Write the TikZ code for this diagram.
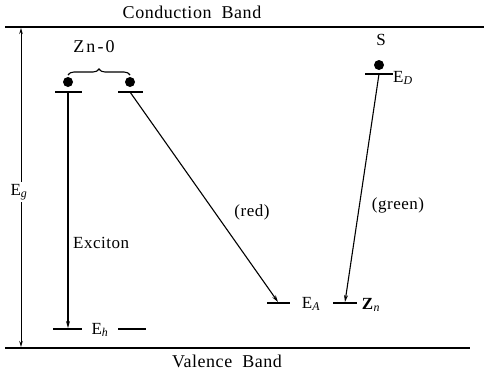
\documentclass[tikz,border=0pt]{standalone}
\usepackage{fontspec}
\setmainfont{Liberation Serif}
\usetikzlibrary{decorations.pathreplacing,arrows.meta}
\begin{document}
\begin{tikzpicture}[x=1pt,y=-1pt,
  band/.style={line width=2pt},
  lvl/.style={line width=1.3pt},
  arr/.style={line width=1.1pt,-{Stealth[length=7pt,width=4pt]}},
  dot/.style={circle,fill=black,inner sep=0pt,minimum size=10pt},
  lab/.style={font=\fontsize{18}{20}\selectfont\addfontfeature{LetterSpace=3},inner sep=1pt},
  slab/.style={font=\fontsize{17}{19}\selectfont\addfontfeature{LetterSpace=3},inner sep=1pt}]
\useasboundingbox (0,0) rectangle (486,372);
% bands
\coordinate (cbl) at (5,27); \coordinate (cbr) at (484,27);
\coordinate (vbl) at (5,348); \coordinate (vbr) at (470,348);
\draw[band] (cbl) -- (cbr);
\draw[band] (vbl) -- (vbr);
\node[lab] (cb) at (192,12) {Conduction\ \ Band};
\node[lab] (vb) at (227,361) {Valence\ \ Band};
% Eg
\coordinate (egt) at (21,28); \coordinate (egb) at (21,347);
\draw[line width=1pt,{Stealth[length=6pt,width=3.5pt]}-{Stealth[length=6pt,width=3.5pt]}] (egt) -- (egb);
\node[slab,fill=white,inner sep=2pt] (eg) at (19,192) {E\textsubscript{\itshape g}};
% Zn-O
\node[slab,font=\fontsize{18}{20}\selectfont\addfontfeature{LetterSpace=12}] (zno) at (94,47) {Zn-0};
\draw[line width=1.1pt,decorate,decoration={brace,amplitude=6pt}] (68,75) -- (130,75);
\node[dot] (d1) at (68,82) {};
\node[dot] (d2) at (130,82) {};
\coordinate (l1) at (68,92); \coordinate (l2) at (130,92);
\draw[lvl] (55,92) -- (82,92);
\draw[lvl] (118,92) -- (143,92);
% Exciton
\coordinate (eh) at (68,328);
\draw[lvl] (53,329) -- (82,329);
\draw[lvl] (118,329) -- (146,329);
\draw[arr] (l1) -- (eh);
\node[slab,anchor=west] (exc) at (72,243) {Exciton};
\node[slab] (ehl) at (100,330) {E\textsubscript{\itshape h}};
% red
\coordinate (ea) at (278,302);
\draw[lvl] (267,303) -- (290,303);
\draw[arr] (l2) -- (ea);
\node[slab] (red) at (252,212) {(red)};
\node[slab] (eal) at (311,304) {E\textsubscript{\itshape A}};
% green
\node[slab] (s) at (381,40) {S};
\node[dot] (d3) at (379,65) {};
\coordinate (ed) at (379,74);
\draw[lvl] (365,74) -- (393,74);
\node[slab,anchor=west] (edl) at (392,78) {E\textsubscript{\itshape D}};
\coordinate (zn) at (345,302);
\draw[lvl] (333,303) -- (357,303);
\draw[arr] (ed) -- (zn);
\node[slab] (green) at (398,205) {(green)};
\node[slab] (znl) at (371,305) {\textbf{Z}\textsubscript{\itshape n}};
\end{tikzpicture}
\end{document}
